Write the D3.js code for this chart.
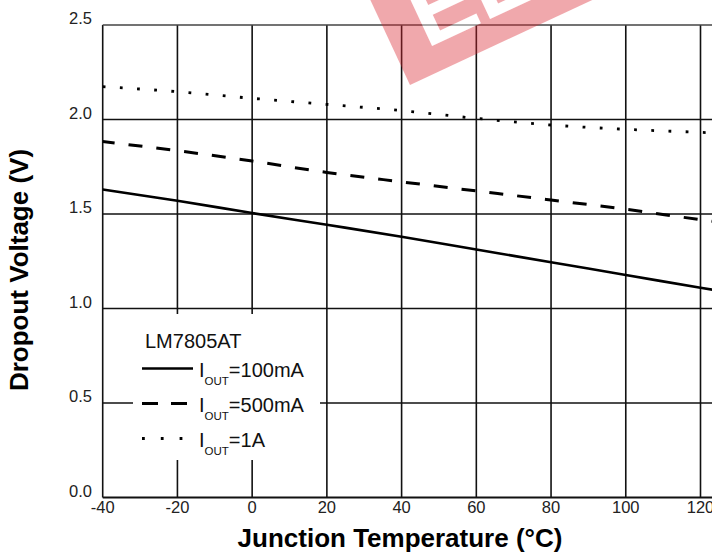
<!DOCTYPE html>
<html>
<head>
<meta charset="utf-8">
<script src="https://cdn.jsdelivr.net/npm/d3@7"></script>
<style>
  html, body { margin: 0; padding: 0; background: #fff; }
  svg { display: block; }
  text { font-family: "Liberation Sans", Arial, sans-serif; }
</style>
</head>
<body>
<svg id="chart" width="712" height="557"></svg>
<script>
// ---- data ----
const temps = [-40, -20, 0, 20, 40, 60, 80, 100, 120, 125];
const v100mA = [1.63, 1.57, 1.505, 1.443, 1.38, 1.312, 1.245, 1.177, 1.11, 1.093];
const v500mA = [1.883, 1.835, 1.78, 1.72, 1.67, 1.622, 1.574, 1.525, 1.47, 1.457];
const v1A = [2.174, 2.147, 2.112, 2.08, 2.047, 2.006, 1.971, 1.948, 1.932, 1.928];
const xTicks = [-40, -20, 0, 20, 40, 60, 80, 100, 120];
const yTicks = [0, 0.5, 1.0, 1.5, 2.0, 2.5];
const seriesNames = ["=100mA", "=500mA", "=1A"];
const legendTitle = "LM7805AT";

const svg = d3.select("#chart");
const x = d3.scaleLinear().domain([-40, 120]).range([102.7, 700.5]);
const y = d3.scaleLinear().domain([0, 2.5]).range([497.5, 25]);
const xMaxShown = 125;

// grid
const grid = svg.append("g").attr("stroke", "#111").attr("stroke-width", 1.6);
grid.selectAll("line.v").data(xTicks).join("line")
  .attr("x1", d => x(d)).attr("x2", d => x(d))
  .attr("y1", y(2.5)).attr("y2", y(0));
grid.selectAll("line.h").data(yTicks).join("line")
  .attr("x1", x(-40)).attr("x2", x(xMaxShown))
  .attr("y1", d => y(d)).attr("y2", d => y(d))
  .attr("stroke", d => d === 2.5 ? "#444" : "#111")
  .attr("stroke-width", d => d === 0 ? 2 : 1.6);

// tick labels
svg.append("g").selectAll("text").data(yTicks).join("text")
  .attr("x", 92).attr("y", d => y(d) - 1)
  .attr("text-anchor", "end").attr("font-size", 16.5).attr("fill", "#222")
  .text(d => d3.format(".1f")(d));
svg.append("g").selectAll("text").data(xTicks).join("text")
  .attr("x", d => x(d)).attr("y", 513)
  .attr("text-anchor", "middle").attr("font-size", 16.5).attr("fill", "#222")
  .text(d => d);

// axis titles
svg.append("text").attr("x", 400).attr("y", 547)
  .attr("text-anchor", "middle").attr("font-size", 26).attr("font-weight", "bold")
  .attr("fill", "#000").text("Junction Temperature (°C)");
svg.append("text").attr("transform", "translate(28,270) rotate(-90)")
  .attr("text-anchor", "middle").attr("font-size", 26).attr("font-weight", "bold")
  .attr("fill", "#000").text("Dropout Voltage (V)");

// series
const styles = [
  { w: 2.6, dash: null, off: 0 },
  { w: 3, dash: "14,14", off: 2 },
  { w: 2.8, dash: "2.8,14.4", off: 0 }
];
const seriesVals = [v100mA, v500mA, v1A];
const line = d3.line().x(d => x(d[0])).y(d => y(d[1])).curve(d3.curveMonotoneX);
svg.append("defs").append("clipPath").attr("id", "clip")
  .append("rect").attr("x", x(-40)).attr("y", 0).attr("width", 712).attr("height", 557);
seriesVals.forEach((vals, i) => {
  svg.append("path")
    .datum(temps.map((t, j) => [t, vals[j]]))
    .attr("clip-path", "url(#clip)")
    .attr("d", line).attr("fill", "none").attr("stroke", "#000")
    .attr("stroke-width", styles[i].w)
    .attr("stroke-dasharray", styles[i].dash)
    .attr("stroke-dashoffset", styles[i].off);
});

// legend
const lg = svg.append("g");
lg.append("rect").attr("x", 133).attr("y", 314).attr("width", 187).attr("height", 146).attr("fill", "#fff");
lg.append("text").attr("x", 145).attr("y", 348).attr("font-size", 20).attr("fill", "#111").text(legendTitle);
const rowY = [376.5, 411.5, 446.5];
seriesNames.forEach((name, i) => {
  lg.append("line").attr("x1", 142).attr("x2", i === 0 ? 193 : 188)
    .attr("y1", rowY[i] - 8).attr("y2", rowY[i] - 8)
    .attr("stroke", "#000").attr("stroke-width", styles[i].w)
    .attr("stroke-dasharray", i === 1 ? "16,13" : (i === 2 ? "2.8,16" : null));
  const t = lg.append("text").attr("x", 199).attr("y", rowY[i]).attr("font-size", 20).attr("fill", "#111");
  t.append("tspan").text("I");
  t.append("tspan").attr("font-size", 11.5).attr("dy", 8).text("OUT");
  t.append("tspan").attr("dy", -8).text(name);
});

// watermark
const wm = svg.append("g").attr("transform", "translate(410,85) rotate(-25)").attr("opacity", 0.4);
wm.append("rect").attr("x", 0).attr("y", -170).attr("width", 420).attr("height", 170).attr("fill", "#dc2832");
wm.append("text").attr("x", 30).attr("y", -26).attr("font-size", 96).attr("font-weight", "bold")
  .attr("fill", "#fff").text("ELEC");
</script>
</body>
</html>
